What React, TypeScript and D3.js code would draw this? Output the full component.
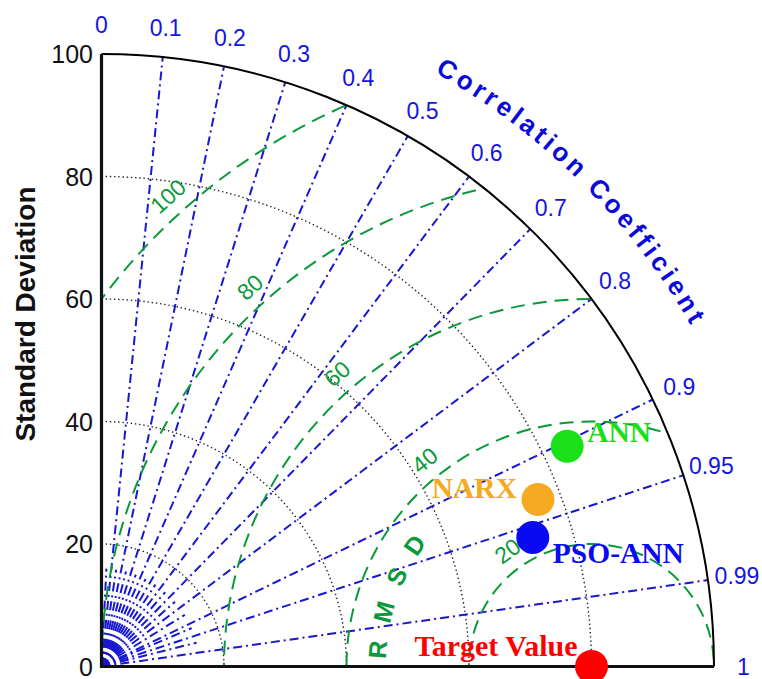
import React from "react";
import * as d3 from "d3";

// Model statistics (standard deviation and correlation with the target)
const models = ["ANN", "NARX", "PSO-ANN"];
const modelStd = [84.1, 76.3, 73.5];
const modelCorr = [0.904, 0.934, 0.958];
const modelColors = ["#19e019", "#f5aa22", "#0a0af0"];
const refLabel = "Target Value";
const refStd = 80;

// Grid / tick definitions
const stdTicks = [0, 20, 40, 60, 80, 100];
const stdArcs = [20, 40, 60, 80];
const corrTicks = [0, 0.1, 0.2, 0.3, 0.4, 0.5, 0.6, 0.7, 0.8, 0.9, 0.95, 0.99, 1];
const corrLines = [0.1, 0.2, 0.3, 0.4, 0.5, 0.6, 0.7, 0.8, 0.9, 0.95, 0.99];
const corrMinor = [0.05, 0.15, 0.25, 0.35, 0.45, 0.55, 0.65, 0.75, 0.85, 0.92, 0.97];
const rmsLevels = [20, 40, 60, 80, 100];
const rmsLabelAngles = [126, 129, 131, 132, 132];

const corrTitle = "Correlation Coefficient";
const rmsTitle = "R M S D";

const W = 762;
const H = 679;
const ox = 101.5;
const oy = 666.5;
const R = 612.5;
const stdMax = 100;

const CORR_BLUE = "#1818d0";
const LABEL_BLUE = "#1515e0";
const RMS_GREEN = "#0a9a3a";
const SANS = "'Liberation Sans', Arial, sans-serif";
const SERIF = "'Liberation Serif', 'Times New Roman', serif";

// Arial/Liberation Sans Bold advance widths (per 1000 em) for glyphs set along arcs
const boldWidths: Record<string, number> = {
  C: 722, o: 611, r: 389, e: 556, l: 278, a: 556, t: 333, i: 278, n: 611,
  " ": 278, f: 333, c: 556, R: 722, M: 833, S: 667, D: 722,
};

const deg = Math.PI / 180;

// Lay glyphs one by one along a clockwise arc starting at angle startDeg
function glyphsOnArc(
  label: string,
  cx: number,
  cy: number,
  rb: number,
  startDeg: number,
  fontSize: number,
  spacing: number
) {
  let s = 0;
  return label.split("").map((ch) => {
    const w = ((boldWidths[ch] ?? 556) * fontSize) / 1000;
    const mid = s + w / 2;
    s += w + spacing;
    const th = startDeg * deg - mid / rb;
    return {
      ch,
      x: cx + rb * Math.cos(th),
      y: cy - rb * Math.sin(th),
      rot: 90 - th / deg,
    };
  });
}

export default function App() {
  const x = d3.scaleLinear().domain([0, stdMax]).range([ox, ox + R]);
  const y = d3.scaleLinear().domain([0, stdMax]).range([oy, oy - R]);
  const px = d3.scaleLinear().domain([0, stdMax]).range([0, R]);

  const pt = (s: number, theta: number): [number, number] => [
    x(s * Math.cos(theta)),
    y(s * Math.sin(theta)),
  ];

  // arc around a centre (px) from math angle a0 down to a1 (clockwise on screen)
  const arc = (cx: number, cy: number, rPx: number, a0: number, a1: number) => {
    const p = d3.path();
    p.arc(cx, cy, rPx, -a0, -a1, false);
    return p.toString();
  };

  const quadClip = (() => {
    const p = d3.path();
    p.moveTo(ox, oy);
    p.lineTo(ox, oy - R);
    p.arc(ox, oy, R, -Math.PI / 2, 0, false);
    p.closePath();
    return p.toString();
  })();

  const refX = x(refStd);
  const refY = y(0);

  const titleGlyphs = glyphsOnArc(corrTitle, ox, oy, 681, 60.7, 26, 3.8);
  const rmsGlyphs = glyphsOnArc(rmsTitle, refX, refY, px(33.6), 178, 25, 5.2);

  const dashDot = "9 4 2 4";

  // label offsets around each marker
  const labelOffsets: { dx: number; dy: number; anchor: string }[] = [
    { dx: 20, dy: -4, anchor: "start" },
    { dx: -21, dy: -2, anchor: "end" },
    { dx: 20, dy: 25.5, anchor: "start" },
  ];

  return (
    <svg
      width={W}
      height={H}
      style={{ position: "absolute", left: 0, top: 0, background: "#fff" }}
    >
      <defs>
        <clipPath id="quad">
          <path d={quadClip} />
        </clipPath>
      </defs>
      <rect width={W} height={H} fill="#fff" />

      {/* standard deviation arcs */}
      {stdArcs.map((s) => (
        <path
          key={"sd" + s}
          d={arc(ox, oy, px(s), Math.PI / 2, 0)}
          fill="none"
          stroke="#222"
          strokeWidth={1.4}
          strokeDasharray="1.4 2.8"
        />
      ))}

      {/* correlation rays */}
      {corrMinor.map((c) => {
        const [x2, y2] = pt(16, Math.acos(c));
        return (
          <line
            key={"cm" + c}
            x1={ox}
            y1={oy}
            x2={x2}
            y2={y2}
            stroke={CORR_BLUE}
            strokeWidth={2}
            strokeDasharray={dashDot}
          />
        );
      })}
      {corrLines.map((c) => {
        const [x2, y2] = pt(stdMax, Math.acos(c));
        return (
          <line
            key={"c" + c}
            x1={ox}
            y1={oy}
            x2={x2}
            y2={y2}
            stroke={CORR_BLUE}
            strokeWidth={2}
            strokeDasharray={dashDot}
          />
        );
      })}

      {/* centred RMS difference circles */}
      <g clipPath="url(#quad)">
        {rmsLevels.map((r) => (
          <circle
            key={"rms" + r}
            cx={refX}
            cy={refY}
            r={px(r)}
            fill="none"
            stroke={RMS_GREEN}
            strokeWidth={2}
            strokeDasharray="14 8"
          />
        ))}
      </g>

      {/* RMS labels */}
      {rmsLevels.map((r, i) => {
        const a = rmsLabelAngles[i] * deg;
        const lx = refX + px(r + 3.3) * Math.cos(a);
        const ly = refY - px(r + 3.3) * Math.sin(a);
        return (
          <text
            key={"rl" + r}
            transform={`translate(${lx},${ly}) rotate(${-(rmsLabelAngles[i] - 90)})`}
            textAnchor="middle"
            dominantBaseline="central"
            fontFamily={SANS}
            fontSize={23}
            fill={RMS_GREEN}
          >
            {r}
          </text>
        );
      })}
      {rmsGlyphs.map((g, i) => (
        <text
          key={"rg" + i}
          transform={`translate(${g.x},${g.y}) rotate(${g.rot})`}
          textAnchor="middle"
          fontFamily={SANS}
          fontSize={25}
          fontWeight="bold"
          fill={RMS_GREEN}
        >
          {g.ch}
        </text>
      ))}

      {/* outer boundary and axes */}
      <path d={arc(ox, oy, R, Math.PI / 2, 0)} fill="none" stroke="#000" strokeWidth={2} />
      <line x1={ox} y1={oy + 1.5} x2={ox} y2={y(stdMax)} stroke="#111" strokeWidth={3.2} />
      <line x1={ox} y1={oy} x2={x(stdMax)} y2={oy} stroke="#111" strokeWidth={3} />

      {/* std tick labels */}
      {stdTicks.map((s) => (
        <text
          key={"st" + s}
          x={93}
          y={y(s)}
          textAnchor="end"
          dominantBaseline="central"
          fontFamily={SANS}
          fontSize={25}
          fill="#111"
        >
          {s}
        </text>
      ))}
      <text
        transform={`translate(35,314) rotate(-90)`}
        textAnchor="middle"
        fontFamily={SANS}
        fontSize={28}
        fontWeight="bold"
        fill="#111"
      >
        Standard Deviation
      </text>

      {/* correlation tick labels */}
      {corrTicks.map((c) => {
        const [lx, ly] = pt(104.8, Math.acos(c));
        return (
          <text
            key={"ct" + c}
            x={lx}
            y={ly}
            textAnchor="middle"
            dominantBaseline="central"
            fontFamily={SANS}
            fontSize={23}
            fill={LABEL_BLUE}
          >
            {c}
          </text>
        );
      })}
      {titleGlyphs.map((g, i) => (
        <text
          key={"tg" + i}
          transform={`translate(${g.x},${g.y}) rotate(${g.rot})`}
          textAnchor="middle"
          fontFamily={SANS}
          fontSize={26}
          fontWeight="bold"
          fill="#0a0adb"
        >
          {g.ch}
        </text>
      ))}

      {/* reference point */}
      <circle cx={refX} cy={refY} r={16.5} fill="#ff0000" />
      <text
        x={refX - 14}
        y={refY - 11}
        textAnchor="end"
        fontFamily={SERIF}
        fontSize={30}
        fontWeight="bold"
        fill="#ff0000"
      >
        {refLabel}
      </text>

      {/* model points */}
      {models.map((m, i) => {
        const [mx, my] = pt(modelStd[i], Math.acos(modelCorr[i]));
        const o = labelOffsets[i];
        return (
          <g key={m}>
            <circle cx={mx} cy={my} r={16.5} fill={modelColors[i]} />
            <text
              x={mx + o.dx}
              y={my + o.dy}
              textAnchor={o.anchor}
              fontFamily={SERIF}
              fontSize={29.5}
              fontWeight="bold"
              fill={modelColors[i]}
            >
              {m}
            </text>
          </g>
        );
      })}
    </svg>
  );
}
